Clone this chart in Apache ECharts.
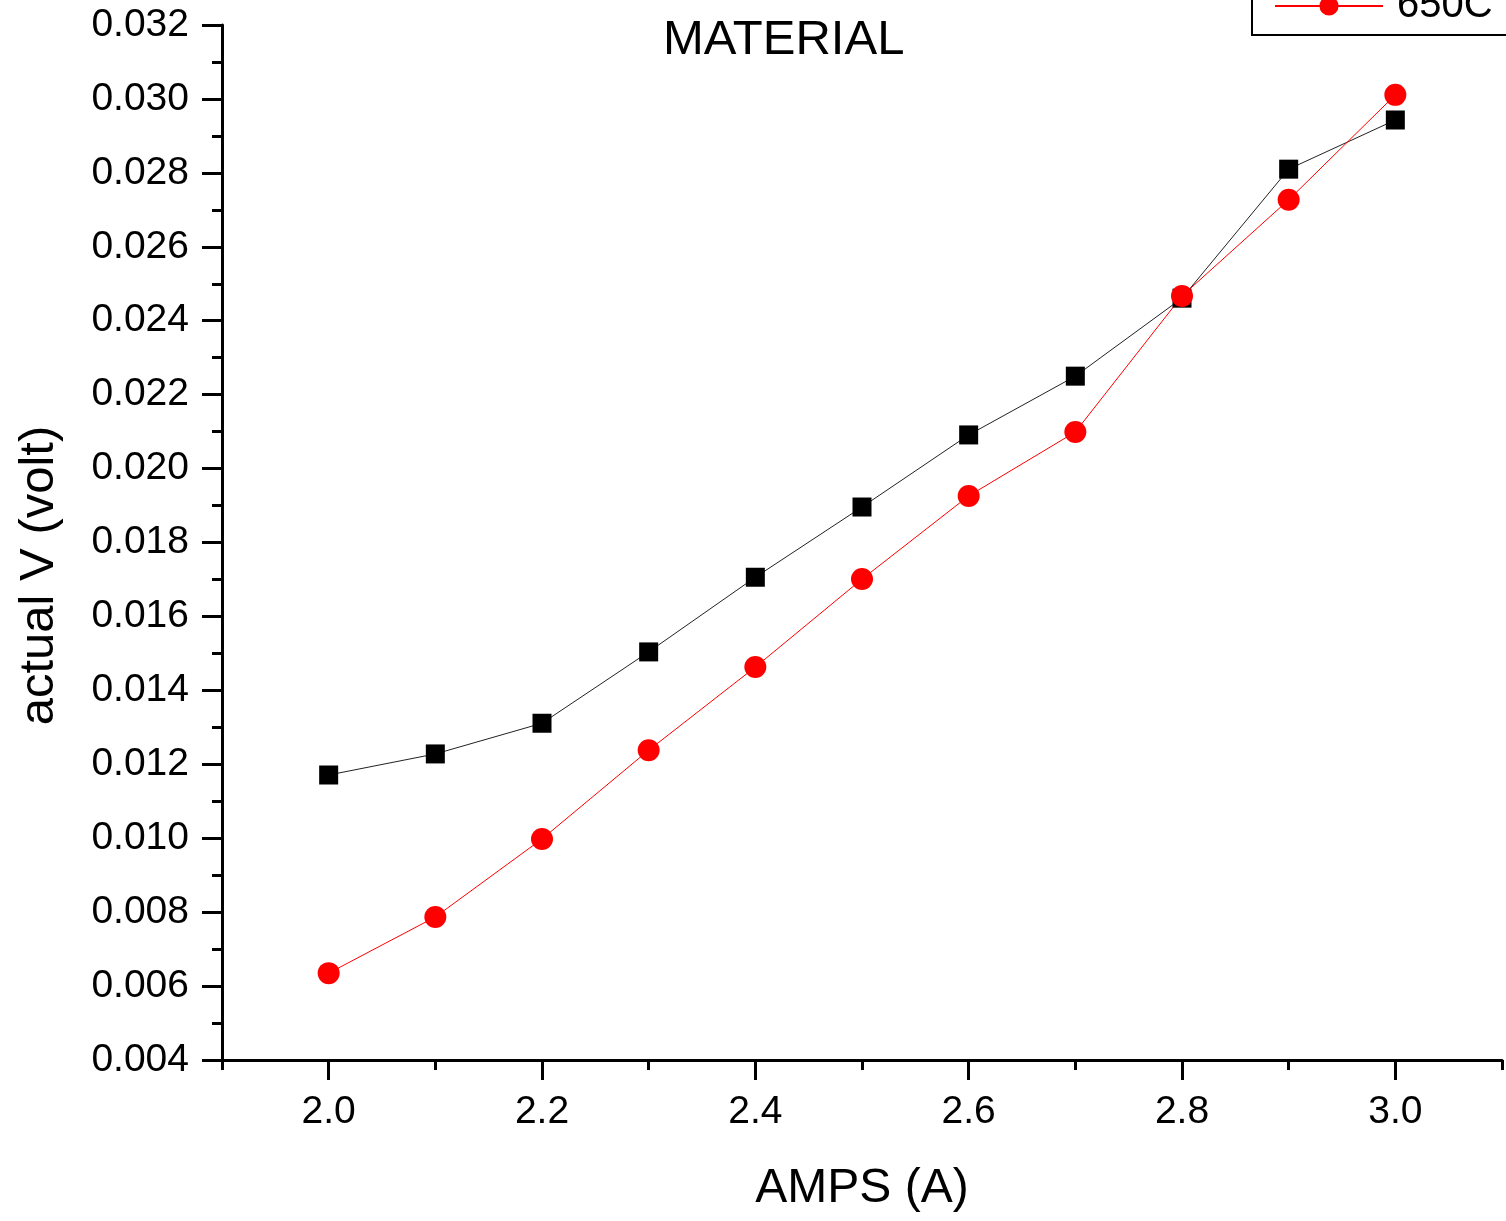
<!DOCTYPE html>
<html>
<head>
<meta charset="utf-8">
<script src="https://cdn.jsdelivr.net/npm/echarts@6/dist/echarts.min.js"></script>
<style>
  html, body { margin: 0; padding: 0; background: #fff; }
  #main { width: 1506px; height: 1221px; }
</style>
</head>
<body>
<div id="main"></div>
<script>
// values
var amps = [2.0, 2.1, 2.2, 2.3, 2.4, 2.5, 2.6, 2.7, 2.8, 2.9, 3.0];
var voltBlack = [0.01171, 0.01228, 0.01311, 0.01504, 0.01706, 0.01896, 0.02091, 0.02250, 0.02461, 0.02810, 0.02943];
var volt650 = [0.00635, 0.00787, 0.00998, 0.01238, 0.01463, 0.01701, 0.01926, 0.02099, 0.02467, 0.02727, 0.03011];
var seriesNames = ['600C', '650C'];

var xMin = 1.9, xMax = 3.1;
var xLabelMin = 2.0, xLabelMax = 3.0, xLabelStep = 0.2;
var yMin = 0.004, yMax = 0.032, yStep = 0.002;

function pairs(xs, ys) {
  return xs.map(function (x, i) { return [x, ys[i]]; });
}

var font = 'Liberation Sans, Arial, sans-serif';
var chart = echarts.init(document.getElementById('main'));

var option = {
  animation: false,
  backgroundColor: '#fff',
  textStyle: { fontFamily: font, color: '#000' },
  title: {
    text: 'MATERIAL',
    left: 663,
    top: 16,
    padding: 0,
    textStyle: { fontFamily: font, fontSize: 49, fontWeight: 'normal', color: '#000', lineHeight: 49 }
  },
  // legend box runs off the top and right edge, as in the picture
  legend: {
    orient: 'vertical',
    left: 1252,
    top: -86,
    padding: [10, 40, 5, 22],
    itemGap: 10,
    itemWidth: 108,
    itemHeight: 24,
    borderColor: '#000',
    borderWidth: 2,
    borderRadius: 0,
    textStyle: { fontFamily: font, fontSize: 40, lineHeight: 38, color: '#000', padding: [0, 0, 10, 9] },
    data: seriesNames
  },
  grid: [
    { left: 222, right: 4, top: 25, bottom: 161 },
    // second grid only carries the labelled x ticks (2.0 ... 3.0)
    { left: 328.67, right: 110.67, top: 25, bottom: 161 }
  ],
  xAxis: [
    {
      type: 'value',
      gridIndex: 0,
      min: xMin,
      max: xMax,
      interval: 0.1,
      axisLine: { show: true, onZero: false, lineStyle: { color: '#000', width: 3 } },
      axisTick: { show: true, length: 10, lineStyle: { color: '#000', width: 3 } },
      axisLabel: { show: false },
      splitLine: { show: false }
    },
    {
      type: 'value',
      gridIndex: 1,
      min: xLabelMin,
      max: xLabelMax,
      interval: xLabelStep,
      name: 'AMPS (A)',
      nameLocation: 'middle',
      nameGap: 105,
      nameTextStyle: { fontFamily: font, fontSize: 48, color: '#000' },
      axisLine: { show: false, onZero: false },
      axisTick: { show: true, length: 20, lineStyle: { color: '#000', width: 3 } },
      axisLabel: {
        margin: 33,
        fontFamily: font,
        fontSize: 39,
        color: '#000',
        formatter: function (v) { return v.toFixed(1); }
      },
      splitLine: { show: false }
    }
  ],
  yAxis: [
    {
      type: 'value',
      gridIndex: 0,
      min: yMin,
      max: yMax,
      interval: yStep,
      name: 'actual V (volt)',
      nameLocation: 'middle',
      nameGap: 158,
      nameTextStyle: { fontFamily: font, fontSize: 49, color: '#000', padding: [0, 66, 0, 0] },
      axisLine: { show: true, onZero: false, lineStyle: { color: '#000', width: 3 } },
      axisTick: { show: true, length: 20, lineStyle: { color: '#000', width: 3 } },
      minorTick: { show: true, splitNumber: 2, length: 10, lineStyle: { color: '#000', width: 3 } },
      axisLabel: {
        margin: 33,
        fontFamily: font,
        fontSize: 39,
        color: '#000',
        formatter: function (v) { return v.toFixed(3); }
      },
      splitLine: { show: false }
    },
    {
      type: 'value',
      gridIndex: 1,
      min: yMin,
      max: yMax,
      show: false
    }
  ],
  series: [
    {
      name: seriesNames[0],
      type: 'line',
      xAxisIndex: 0,
      yAxisIndex: 0,
      data: pairs(amps, voltBlack),
      symbol: 'rect',
      symbolSize: 19,
      itemStyle: { color: '#000' },
      lineStyle: { color: '#222', width: 1 }
    },
    {
      name: seriesNames[1],
      type: 'line',
      xAxisIndex: 0,
      yAxisIndex: 0,
      data: pairs(amps, volt650),
      symbol: 'circle',
      symbolSize: 22,
      itemStyle: { color: '#ff0000' },
      lineStyle: { color: '#ff0000', width: 1 }
    }
  ]
};

chart.setOption(option);
</script>
</body>
</html>
